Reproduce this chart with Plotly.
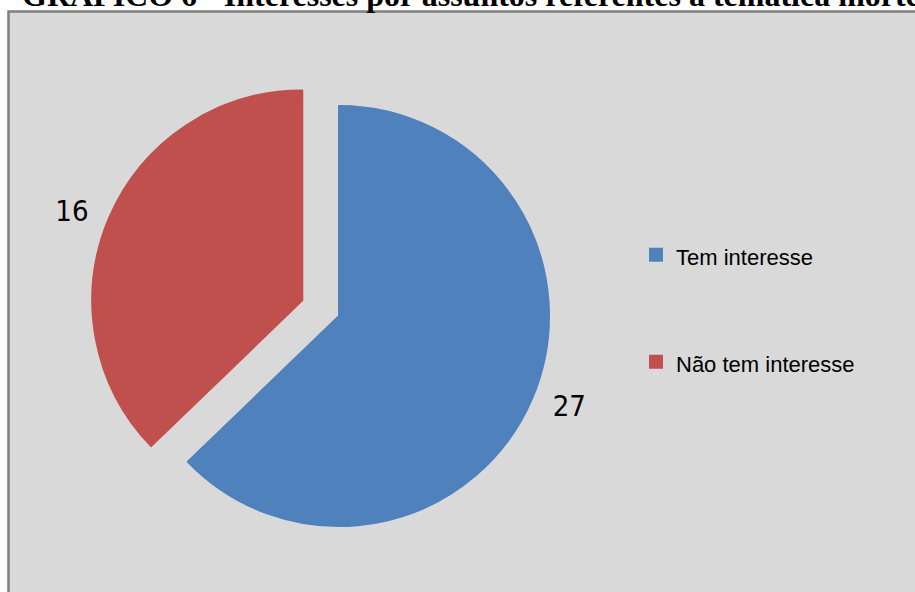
import plotly.graph_objects as go

categories = ["Tem interesse", "Não tem interesse"]
values = [27, 16]
colors = ["#4F81BD", "#C0504D"]
title_text = "GRÁFICO 6 - Interesses por assuntos referentes à temática morte"

W, H = 915, 592
# pie geometry in pixels
cx, cy, r = 339, 316, 210
pull_px = 39.9
label_gap = 13  # extra distance of the value labels from the pie edge


def domain_for(radius, pull):
    half = radius * (1 + pull)
    return dict(x=[(cx - half) / W, (cx + half) / W],
                y=[1 - (cy + half) / H, 1 - (cy - half) / H])


legend_labels = [
    '<span style="font-size:22px">%s</span><br>\u00a0<br>\u00a0' % c for c in categories
]

pull_main = pull_px / r
r2 = r + label_gap
pull_ring = pull_px / r2

label_font = dict(family="Liberation Sans Narrow, DejaVu Sans Condensed, Liberation Sans, Arial",
                  size=29, color="#000")

fig = go.Figure()
fig.add_trace(go.Pie(
    labels=legend_labels,
    values=values,
    marker=dict(colors=colors, line=dict(color=colors, width=2)),
    pull=[0, pull_main],
    sort=False,
    direction="clockwise",
    rotation=0,
    textinfo="none",
    domain=domain_for(r, pull_main),
    hoverinfo="value+percent",
))
# transparent ring carrying the value labels just outside the pie
fig.add_trace(go.Pie(
    labels=legend_labels,
    values=values,
    marker=dict(colors=["rgba(0,0,0,0)"] * len(values), line=dict(width=0)),
    pull=[0, pull_ring],
    sort=False,
    direction="clockwise",
    rotation=0,
    textinfo="value",
    textposition="outside",
    outsidetextfont=label_font,
    domain=domain_for(r2, pull_ring),
    hoverinfo="skip",
    showlegend=False,
))

fig.update_layout(
    width=W, height=H,
    margin=dict(l=0, r=0, t=0, b=0, autoexpand=False),
    paper_bgcolor="white",
    plot_bgcolor="white",
    showlegend=True,
    legend=dict(
        x=636 / W, y=1 - 231 / H, xanchor="left", yanchor="top",
        font=dict(family="Liberation Sans, Arial", size=26.67, color="#000"),
        bgcolor="rgba(0,0,0,0)", valign="top", tracegroupgap=0,
    ),
    shapes=[dict(
        type="rect", xref="paper", yref="paper", layer="below",
        x0=8.5 / W, x1=1.05, y0=-0.05, y1=1 - 11.5 / H,
        line=dict(color="#808080", width=2.5), fillcolor="#D9D9D9",
    )],
    annotations=[dict(
        text="<b>%s</b>" % title_text, xref="paper", yref="paper",
        x=20 / W, y=1 - 15 / H, xanchor="left", yanchor="bottom", showarrow=False,
        font=dict(family="Liberation Serif, Times New Roman, serif", size=32, color="#000"),
    )],
)

fig.write_html("out.html")
